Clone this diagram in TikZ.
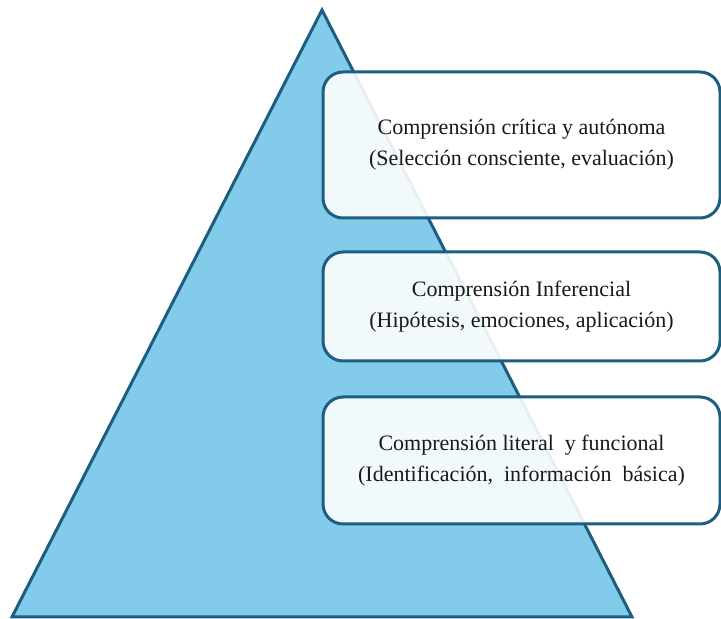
\documentclass[tikz,border=0pt]{standalone}
\usepackage{fontspec}
\setmainfont{Liberation Serif}
\definecolor{trifill}{HTML}{83CBEA}
\definecolor{edge}{HTML}{1D5E80}
\tikzset{
  levelbox/.style={draw=edge, line width=3pt, rounded corners=20pt, fill=white, fill opacity=0.9, text opacity=1, align=center, minimum width=397pt, inner sep=0pt, font=\fontsize{22}{31}\selectfont, text=black!90},
}
\begin{document}
\begin{tikzpicture}[x=1pt,y=1pt]
\useasboundingbox (0,0) rectangle (721,619);
\coordinate (apex) at (322,609);
\coordinate (bl) at (12,2);
\coordinate (br) at (632,2);
\draw[edge, line width=3pt, fill=trifill, line join=miter] (apex) -- (br) -- (bl) -- cycle;
\node[levelbox, minimum height=146pt] (top) at (521.5,474) {Comprensión crítica y autónoma\\(Selección consciente, evaluación)};
\node[levelbox, minimum height=109pt] (mid) at (521.5,312.5) {Comprensión Inferencial\\(Hipótesis, emociones, aplicación)};
\node[levelbox, minimum height=127pt] (bot) at (521.5,158.5) {Comprensión literal\ \ y funcional\\(Identificación,\ \ información\ \ básica)};
\end{tikzpicture}
\end{document}
